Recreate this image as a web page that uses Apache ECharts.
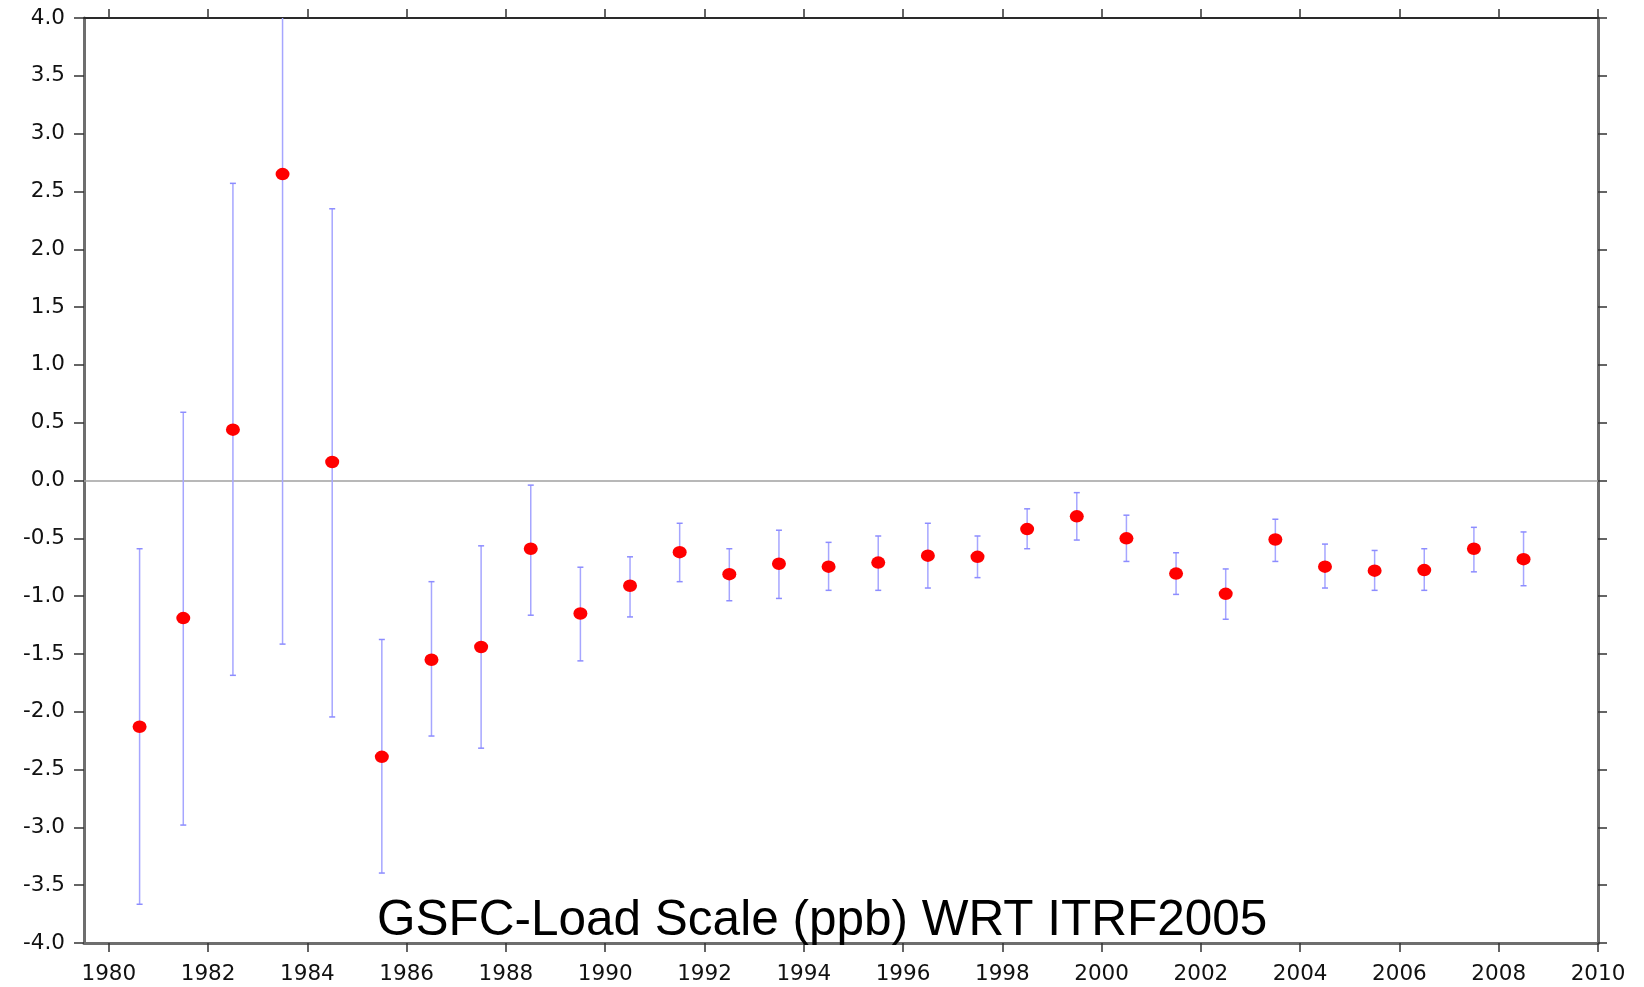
<!DOCTYPE html>
<html>
<head>
<meta charset="utf-8">
<script src="https://cdn.jsdelivr.net/npm/echarts@6/dist/echarts.min.js"></script>
<style>
  html, body { margin: 0; padding: 0; background: #ffffff; }
  #chart { width: 1644px; height: 987px; }
</style>
</head>
<body>
<div id="chart"></div>
<script>
// ---- data ----
const epochs = [1980.62, 1981.5, 1982.5, 1983.5, 1984.5, 1985.5, 1986.5, 1987.5, 1988.5, 1989.5,
                1990.5, 1991.5, 1992.5, 1993.5, 1994.5, 1995.5, 1996.5, 1997.5, 1998.5, 1999.5,
                2000.5, 2001.5, 2002.5, 2003.5, 2004.5, 2005.5, 2006.5, 2007.5, 2008.5];
const scaleValues = [-2.13, -1.19, 0.44, 2.65, 0.16, -2.39, -1.55, -1.44, -0.59, -1.15,
                     -0.91, -0.62, -0.81, -0.72, -0.745, -0.71, -0.65, -0.66, -0.42, -0.31,
                     -0.50, -0.805, -0.98, -0.51, -0.745, -0.78, -0.775, -0.59, -0.68];
const upperValues = [-0.59, 0.59, 2.57, 6.71, 2.35, -1.375, -0.875, -0.565, -0.04, -0.75,
                     -0.66, -0.37, -0.59, -0.43, -0.535, -0.48, -0.37, -0.48, -0.245, -0.105,
                     -0.30, -0.625, -0.765, -0.335, -0.55, -0.605, -0.59, -0.405, -0.445];
const lowerValues = [-3.665, -2.98, -1.685, -1.415, -2.045, -3.395, -2.21, -2.315, -1.165, -1.56,
                     -1.18, -0.875, -1.04, -1.02, -0.95, -0.95, -0.93, -0.84, -0.59, -0.515,
                     -0.70, -0.985, -1.2, -0.70, -0.93, -0.95, -0.95, -0.79, -0.91];
const yearTicks = [1980, 1982, 1984, 1986, 1988, 1990, 1992, 1994, 1996, 1998,
                   2000, 2002, 2004, 2006, 2008, 2010];
const xMin = 1979.5, xMax = 2010;
const yMin = -4, yMax = 4, yStep = 0.5;
const titleText = 'GSFC-Load Scale (ppb) WRT ITRF2005';

// ---- build series data ----
const pointData = epochs.map((t, i) => [t, scaleValues[i]]);
const barData = epochs.map((t, i) => [t, lowerValues[i], upperValues[i]]);

const chart = echarts.init(document.getElementById('chart'), null, { renderer: 'canvas' });

const labelFont = { fontFamily: 'DejaVu Sans', fontSize: 21.5, color: '#111' };
const frameGray = '#6e6e6e';
const tickColor = '#333333';

function renderErrorBar(params, api) {
  const x = api.value(0), lo = api.value(1), hi = api.value(2);
  const pLo = api.coord([x, lo]);
  const pHi = api.coord([x, hi]);
  const cs = params.coordSys;
  const top = cs.y, bottom = cs.y + cs.height;
  const yHi = Math.max(pHi[1], top);
  const yLo = Math.min(pLo[1], bottom);
  const style = { stroke: '#a6a6ff', lineWidth: 1.5 };
  const capStyle = { stroke: '#8c8cff', lineWidth: 1.5 };
  const cw = 3;
  const children = [{
    type: 'line',
    shape: { x1: pHi[0], y1: yHi, x2: pLo[0], y2: yLo },
    style: style
  }];
  if (pHi[1] >= top) {
    children.push({ type: 'line', shape: { x1: pHi[0] - cw, y1: yHi, x2: pHi[0] + cw, y2: yHi }, style: capStyle });
  }
  if (pLo[1] <= bottom) {
    children.push({ type: 'line', shape: { x1: pLo[0] - cw, y1: yLo, x2: pLo[0] + cw, y2: yLo }, style: capStyle });
  }
  return { type: 'group', children: children };
}

const option = {
  backgroundColor: '#ffffff',
  animation: false,
  title: {
    text: titleText,
    left: 377,
    top: 896,
    padding: 0,
    textStyle: { fontFamily: 'Liberation Sans', fontSize: 49.5, fontWeight: 'normal', color: '#000' }
  },
  grid: { left: 84, right: 46, top: 18, bottom: 44, containLabel: false, outerBoundsMode: 'none' },
  xAxis: [{
    type: 'value', position: 'bottom', min: xMin, max: xMax,
    axisLine: { show: true, onZero: false, lineStyle: { color: frameGray, width: 3 } },
    axisTick: { show: true, inside: false, length: 9, customValues: yearTicks, lineStyle: { color: tickColor, width: 1.5 } },
    axisLabel: Object.assign({ show: true, margin: 20, customValues: yearTicks, formatter: v => String(v) }, labelFont),
    splitLine: { show: false }
  }, {
    type: 'value', position: 'top', min: xMin, max: xMax,
    axisLine: { show: true, onZero: false, lineStyle: { color: '#2a2a2a', width: 2 } },
    axisTick: { show: true, inside: false, length: 9, customValues: yearTicks, lineStyle: { color: tickColor, width: 1.5 } },
    axisLabel: { show: false },
    splitLine: { show: false }
  }],
  yAxis: [{
    type: 'value', position: 'left', min: yMin, max: yMax, interval: yStep,
    axisLine: { show: true, onZero: false, lineStyle: { color: frameGray, width: 3 } },
    axisTick: { show: true, inside: false, length: 10, lineStyle: { color: tickColor, width: 1.5 } },
    axisLabel: Object.assign({ show: true, margin: 19, formatter: v => v.toFixed(1) }, labelFont),
    splitLine: { show: false }
  }, {
    type: 'value', position: 'right', min: yMin, max: yMax, interval: yStep,
    axisLine: { show: true, onZero: false, lineStyle: { color: frameGray, width: 3 } },
    axisTick: { show: true, inside: false, length: 9, lineStyle: { color: tickColor, width: 1.5 } },
    axisLabel: { show: false },
    splitLine: { show: false }
  }],
  series: [{
    type: 'custom',
    name: 'error',
    xAxisIndex: 0, yAxisIndex: 0,
    renderItem: renderErrorBar,
    encode: { x: 0, y: [1, 2] },
    data: barData,
    z: 3,
    silent: true,
    markLine: {
      silent: true,
      symbol: 'none',
      label: { show: false },
      lineStyle: { color: '#a0a0a0', width: 1.5, type: 'solid' },
      data: [{ yAxis: 0 }],
      z: 1
    }
  }, {
    type: 'scatter',
    name: 'scale',
    xAxisIndex: 0, yAxisIndex: 0,
    symbol: 'circle',
    symbolSize: [14, 12.5],
    itemStyle: { color: '#ff0000', opacity: 1 },
    data: pointData,
    z: 5,
    silent: true
  }]
};

chart.setOption(option);
</script>
</body>
</html>
